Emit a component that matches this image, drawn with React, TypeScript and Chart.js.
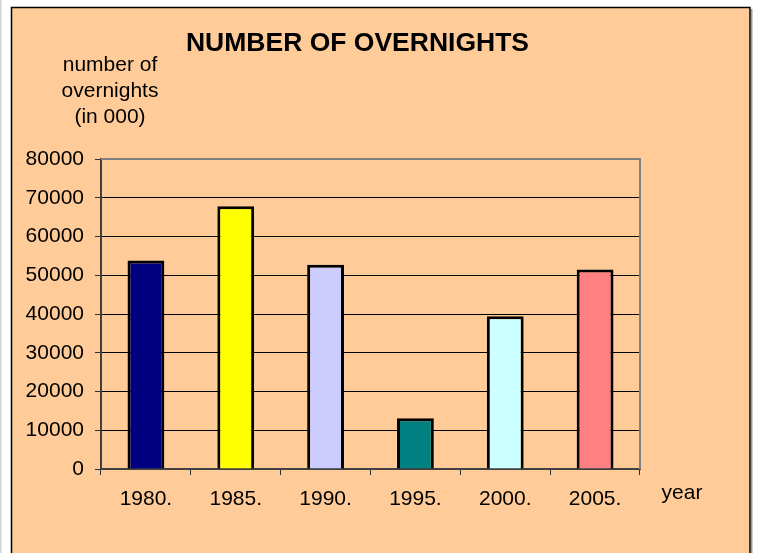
import React, { useEffect, useRef } from "react";
import { Chart, registerables } from "chart.js";

Chart.register(...registerables);

const years = ["1980.", "1985.", "1990.", "1995.", "2000.", "2005."];
const overnights = [53800, 67800, 52700, 13100, 39400, 51500];
const barColors = ["#000080", "#FFFF00", "#CCCCFF", "#008080", "#CCFFFF", "#FF8080"];
const yMin = 0;
const yMax = 80000;
const yStep = 10000;
const titleText = "NUMBER OF OVERNIGHTS";
const yAxisTitleLines = ["number of", "overnights", "(in 000)"];
const xAxisTitle = "year";

const FONT = '"Liberation Sans", Arial, sans-serif';
const W = 757;
const H = 553;

const decorPlugin = {
  id: "decor",
  beforeDraw(chart: any) {
    const ctx = chart.ctx;
    ctx.save();
    ctx.fillStyle = "#ffffff";
    ctx.fillRect(0, 0, W, H);
    ctx.fillStyle = "#d4d4d4";
    ctx.fillRect(0, 0, 1.5, H);
    // outer frame
    ctx.fillStyle = "#FFCC99";
    ctx.fillRect(11, 7, 739, H);
    ctx.strokeStyle = "#000000";
    ctx.lineWidth = 1.5;
    ctx.beginPath();
    ctx.moveTo(11.5, H + 2);
    ctx.lineTo(11.5, 7.5);
    ctx.lineTo(750, 7.5);
    ctx.lineTo(750, H + 2);
    ctx.stroke();
    ctx.fillStyle = "#9a9a9a";
    ctx.fillRect(751, 9, 1.5, H);
    ctx.restore();
  },
  afterDraw(chart: any) {
    const ctx = chart.ctx;
    const a = chart.chartArea;
    ctx.save();
    ctx.strokeStyle = "#808080";
    ctx.lineWidth = 2;
    ctx.beginPath();
    ctx.moveTo(a.left, a.top);
    ctx.lineTo(a.right, a.top);
    ctx.lineTo(a.right, a.bottom);
    ctx.stroke();

    ctx.fillStyle = "#000000";
    ctx.textAlign = "center";
    ctx.textBaseline = "alphabetic";
    ctx.font = `bold 26.5px ${FONT}`;
    ctx.fillText(titleText, 357.5, 51);

    ctx.font = `21px ${FONT}`;
    yAxisTitleLines.forEach((line, i) => {
      ctx.fillText(line, 110, 71 + i * 26);
    });
    ctx.fillText(xAxisTitle, 682, 499);
    ctx.restore();
  },
};

export default function App() {
  const ref = useRef<HTMLCanvasElement | null>(null);

  useEffect(() => {
    document.body.style.margin = "0";
    const canvas = ref.current;
    if (!canvas) return;
    const chart = new Chart(canvas, {
      type: "bar",
      data: {
        labels: years,
        datasets: [
          {
            data: overnights,
            backgroundColor: barColors,
            borderColor: "#000000",
            borderWidth: 3,
            barPercentage: 0.41,
            categoryPercentage: 1,
          },
        ],
      },
      options: {
        responsive: false,
        animation: false,
        devicePixelRatio: 1,
        layout: { padding: { left: 0, top: 159, right: 117, bottom: 0 } },
        plugins: {
          legend: { display: false },
          title: { display: false },
          tooltip: { enabled: false },
        },
        scales: {
          x: {
            type: "category",
            offset: true,
            afterFit(scale: any) {
              scale.height = 84;
            },
            grid: {
              offset: true,
              drawOnChartArea: false,
              drawTicks: true,
              tickLength: 6,
              tickColor: "#303030",
              tickWidth: 1,
            },
            border: { display: true, color: "#404040", width: 2 },
            ticks: {
              color: "#000000",
              font: { family: FONT, size: 21 },
              padding: 12,
              maxRotation: 0,
              autoSkip: false,
            },
          },
          y: {
            min: yMin,
            max: yMax,
            afterFit(scale: any) {
              scale.width = 101;
            },
            grid: {
              color: "#000000",
              lineWidth: 1,
              drawTicks: true,
              tickLength: 6,
              tickColor: "#303030",
            },
            border: { display: true, color: "#404040", width: 2 },
            ticks: {
              stepSize: yStep,
              color: "#000000",
              font: { family: FONT, size: 21 },
              padding: 11,
              callback: (v: any) => String(v),
            },
          },
        },
      },
      plugins: [decorPlugin],
    });
    return () => chart.destroy();
  }, []);

  return (
    <div style={{ position: "absolute", left: 0, top: 0, width: W, height: H }}>
      <canvas ref={ref} width={W} height={H} style={{ display: "block", width: W, height: H }} />
    </div>
  );
}
